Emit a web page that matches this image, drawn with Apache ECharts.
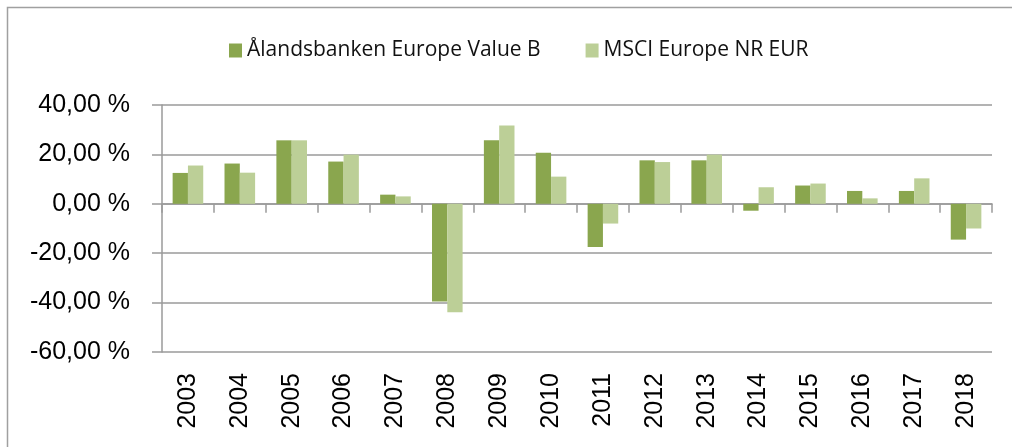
<!DOCTYPE html>
<html>
<head>
<meta charset="utf-8">
<script src="https://cdn.jsdelivr.net/npm/echarts@6/dist/echarts.min.js"></script>
<style>
  html, body { margin: 0; padding: 0; background: #fff; }
  #chart { width: 1012px; height: 447px; }
</style>
</head>
<body>
<div id="chart"></div>
<script>
// Yearly returns, percent
const years = ['2003', '2004', '2005', '2006', '2007', '2008', '2009', '2010',
               '2011', '2012', '2013', '2014', '2015', '2016', '2017', '2018'];
const fundName = 'Ålandsbanken Europe Value B';
const indexName = 'MSCI Europe NR EUR';
const fundReturns = [12.5, 16.3, 25.7, 17.1, 3.7, -39.6, 25.7, 20.7,
                     -17.5, 17.6, 17.6, -2.8, 7.4, 5.2, 5.2, -14.5];
const indexReturns = [15.5, 12.6, 25.7, 19.9, 3.0, -43.9, 31.7, 11.0,
                      -8.0, 16.9, 19.9, 6.7, 8.2, 2.2, 10.3, -10.0];

const darkGreen = '#8aa64e';
const lightGreen = '#bccf97';
const lineGray = '#9a9a9a';
const font = '"Liberation Sans", Arial, sans-serif';
const legendFont = '"Open Sans", "Liberation Sans", sans-serif';

const gridBox = { left: 162, right: 20, top: 105, bottom: 95 };

const chart = echarts.init(document.getElementById('chart'), null, { renderer: 'canvas' });
chart.setOption({
  animation: false,
  backgroundColor: '#fff',
  graphic: [{
    type: 'rect',
    shape: { x: 7.5, y: 7.5, width: 1020, height: 460 },
    style: { fill: 'none', stroke: '#a0a0a0', lineWidth: 1.5 },
    silent: true
  }],
  legend: {
    left: 229, top: 40, padding: 0,
    itemWidth: 13, itemHeight: 14, itemGap: 45,
    icon: 'rect',
    textStyle: { fontFamily: legendFont, fontSize: 21, color: '#111' },
    data: [fundName, indexName]
  },
  grid: [
    Object.assign({}, gridBox),
    Object.assign({}, gridBox)
  ],
  xAxis: [{
    // axis line and ticks along the zero line
    type: 'category', gridIndex: 0, data: years,
    axisLine: { onZero: true, lineStyle: { color: lineGray, width: 1.5 } },
    axisTick: { show: true, length: 9, lineStyle: { color: lineGray, width: 1.5 } },
    axisLabel: { show: false }
  }, {
    // year labels under the plot
    type: 'category', gridIndex: 1, data: years, position: 'bottom',
    axisLine: { show: false }, axisTick: { show: false },
    axisLabel: {
      rotate: 90, margin: 21, interval: 0,
      fontFamily: font, fontSize: 25, color: '#000'
    }
  }],
  yAxis: [{
    type: 'value', gridIndex: 0, min: -60, max: 40, interval: 20,
    axisLine: { show: true, lineStyle: { color: lineGray, width: 1.5 } },
    axisTick: { show: true, length: 10, lineStyle: { color: lineGray, width: 1.5 } },
    splitLine: { lineStyle: { color: lineGray, width: 1.5 } },
    axisLabel: {
      margin: 32, fontFamily: font, fontSize: 25, color: '#000',
      formatter: v => v.toFixed(2).replace('.', ',') + ' %'
    }
  }, {
    type: 'value', gridIndex: 1, min: -60, max: 40, interval: 20, show: false
  }],
  series: [{
    name: fundName, type: 'bar', xAxisIndex: 0, yAxisIndex: 0,
    data: fundReturns, itemStyle: { color: darkGreen },
    barGap: '0%', barCategoryGap: '41%'
  }, {
    name: indexName, type: 'bar', xAxisIndex: 0, yAxisIndex: 0,
    data: indexReturns, itemStyle: { color: lightGreen },
    barGap: '0%', barCategoryGap: '41%'
  }]
});
</script>
</body>
</html>
